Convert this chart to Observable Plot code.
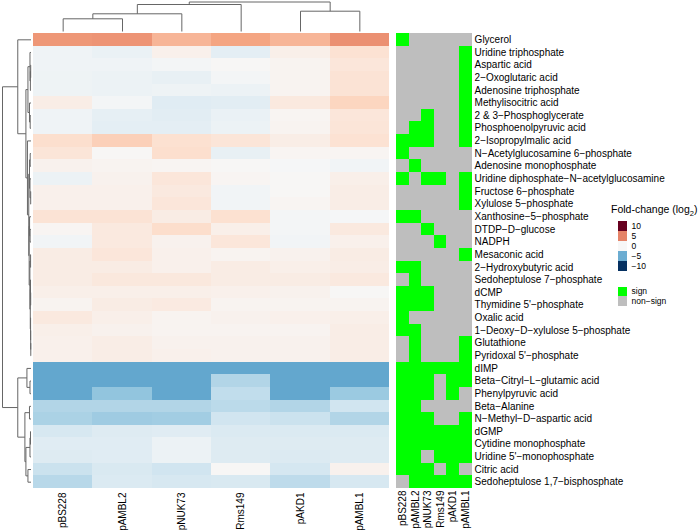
<!DOCTYPE html>
<html><head><meta charset="utf-8">
<script src="https://cdn.jsdelivr.net/npm/d3@7"></script>
<script src="https://cdn.jsdelivr.net/npm/@observablehq/plot@0.6"></script>
<style>
html,body{margin:0;padding:0;background:#fff;}
#chart{position:relative;width:700px;height:532px;overflow:hidden;font-family:"Liberation Sans",Arial,sans-serif;}
#chart svg{position:absolute;left:0;top:0;}
#fctitle{position:absolute;left:611px;top:203px;font-size:10.5px;line-height:12px;color:#000;white-space:nowrap;}
#fctitle sub{font-size:7.5px;line-height:0;}
</style></head><body>
<div id="chart"><div id="fctitle">Fold-change (log<sub>2</sub>)</div></div>
<script>
// ---------------- DATA ----------------
const samples = ["pBS228", "pAMBL2", "pNUK73", "Rms149", "pAKD1", "pAMBL1"];
const metabolites = [
  "Glycerol", "Uridine triphosphate", "Aspartic acid", "2−Oxoglutaric acid", "Adenosine triphosphate",
  "Methylisocitric acid", "2 & 3−Phosphoglycerate", "Phosphoenolpyruvic acid", "2−Isopropylmalic acid",
  "N−Acetylglucosamine 6−phosphate", "Adenosine monophosphate", "Uridine diphosphate−N−acetylglucosamine",
  "Fructose 6−phosphate", "Xylulose 5−phosphate", "Xanthosine−5−phosphate", "DTDP−D−glucose", "NADPH",
  "Mesaconic acid", "2−Hydroxybutyric acid", "Sedoheptulose 7−phosphate", "dCMP", "Thymidine 5'−phosphate",
  "Oxalic acid", "1−Deoxy−D−xylulose 5−phosphate", "Glutathione", "Pyridoxal 5'−phosphate", "dIMP",
  "Beta−Citryl−L−glutamic acid", "Phenylpyruvic acid", "Beta−Alanine", "N−Methyl−D−aspartic acid", "dGMP",
  "Cytidine monophosphate", "Uridine 5'−monophosphate", "Citric acid", "Sedoheptulose 1,7−bisphosphate"
];
// log2 fold-change, one series per plasmid (row order = metabolites)
const fc_pBS228 = [4.4,-0.4,-0.4,-0.5,-0.5,0.7,-0.4,-0.4,1.7,1.3,0.4,-0.6,0.5,0.5,1.4,0.2,-0.3,0.8,0.8,0.8,0.6,0.3,1.0,0.6,0.5,0.5,-5.2,-5.2,-5.2,-3.0,-3.2,-1.7,-1.2,-1.3,-2.2,-2.8];
const fc_pAMBL2 = [4.5,-0.7,-0.4,-0.6,-0.6,-0.2,-0.9,-1.0,2.4,0.1,0.3,0.4,0.5,0.5,1.4,1.0,1.0,1.2,0.8,1.1,0.6,0.8,0.6,0.4,0.7,0.7,-5.2,-5.2,-4.0,-3.0,-3.6,-1.3,-1.2,-1.2,-1.6,-1.5];
const fc_pNUK73 = [3.4,0.5,-0.2,-0.8,-0.5,-1.2,-1.1,-1.0,1.6,1.7,0.2,1.2,1.0,1.2,0.8,1.8,0.4,0.5,0.5,1.1,0.6,0.9,0.3,0.3,0.4,0.5,-5.2,-5.2,-5.2,-3.0,-3.5,-1.2,-0.6,-0.6,-2.0,-1.7];
const fc_Rms149 = [4.0,-1.0,0.1,-0.2,-0.6,-1.1,-0.7,-0.6,1.3,-0.8,0.1,0.2,-0.3,-0.3,1.6,0.6,1.2,0.3,0.8,0.8,0.5,0.3,0.4,0.3,0.4,0.4,-5.2,-3.0,-2.5,-2.7,-2.0,-1.5,-1.3,-1.3,0.1,-1.6];
const fc_pAKD1  = [3.4,0.6,0.3,0.3,0.3,1.0,0.2,0.3,0.7,0.2,-0.1,0.1,0.1,0.2,-0.2,-0.2,-0.3,0.4,0.6,0.8,0.4,0.3,0.5,0.3,0.4,0.4,-5.2,-5.2,-5.2,-3.0,-2.2,-1.5,-1.3,-1.4,-1.8,-2.6];
const fc_pAMBL1 = [4.6,1.5,1.2,1.4,1.4,2.2,1.2,1.3,1.5,0.2,-0.3,0.6,0.7,0.7,-0.1,1.0,0.5,0.8,0.7,1.0,0.1,0.3,0.6,0.7,0.7,0.7,-5.2,-5.2,-3.7,-2.0,-3.0,-1.5,-1.3,-1.3,0.4,-1.7];
// significance (1 = sign, 0 = non-sign)
const sig_pBS228 = [1,0,0,0,0,0,0,0,1,1,0,1,0,0,1,0,0,0,1,0,1,1,1,1,0,0,1,1,1,1,1,1,1,1,1,0];
const sig_pAMBL2 = [0,0,0,0,0,0,0,1,1,0,1,0,0,0,1,0,0,0,1,1,1,1,0,1,1,1,1,1,1,1,1,1,1,1,1,1];
const sig_pNUK73 = [0,0,0,0,0,0,1,1,1,0,0,1,0,0,0,1,0,0,0,0,1,1,0,0,0,0,1,1,1,0,1,1,1,0,1,1];
const sig_Rms149 = [0,0,0,0,0,0,0,0,0,0,0,1,0,0,0,0,1,0,0,0,0,0,0,0,0,0,1,0,0,0,0,1,1,1,0,1];
const sig_pAKD1  = [0,0,0,0,0,0,0,0,0,0,0,0,0,0,0,0,0,0,0,0,0,0,0,0,0,0,1,1,1,0,0,1,1,1,1,1];
const sig_pAMBL1 = [0,1,1,1,1,1,1,1,1,0,0,1,1,1,0,0,0,1,0,0,0,0,0,0,1,1,1,1,0,0,1,1,1,1,0,1];
// dendrograms: [height, left, right], leaves = index
const colTree = [29.5, [27, [17.7, [12.7, 0, 1], 2], 3], [20.3, 4, 5]];
const rowTreeTop = [13, 0,
  [5,
    [3, [1.0, 1, [0.6, [0.3, 2, 3], 4]], [1.5, 5, [0.8, 6, 7]]],
    [3.5, 8,
      [2.2,
        [1.5, [0.8, 9, 10], [1.0, 11, [0.3, 12, 13]]],
        [1.8, [1.4, 14, [0.9, 15, 16]],
              [1.1, [0.4, 17, 18], [0.7, [0.5, 19, [0.3, 20, 21]], [0.4, 22, [0.3, 23, [0.2, 24, 25]]]]]]]]]];
const rowTreeBottom = [13, [4, 26, [1, 27, 28]], [6, [1.5, 29, 30], [5, [1, [0.5, 31, 32], 33], [3, 34, 35]]]];
const rowTree = [28, rowTreeTop, rowTreeBottom];
const legendBreaks = [10, 5, 0, -5, -10];
const sigLevels = ["sign", "non-sign"];

// ---------------- BUILD ----------------
const fcSeries = [fc_pBS228, fc_pAMBL2, fc_pNUK73, fc_Rms149, fc_pAKD1, fc_pAMBL1];
const sigSeries = [sig_pBS228, sig_pAMBL2, sig_pNUK73, sig_Rms149, sig_pAKD1, sig_pAMBL1];
const cells = metabolites.flatMap((m, i) => samples.map((s, j) => ({metabolite: m, sample: s, value: fcSeries[j][i]})));
const sigCells = metabolites.flatMap((m, i) => samples.map((s, j) => ({metabolite: m, sample: s, status: sigSeries[j][i] ? "sign" : "non-sign"})));

function dendroSegments(tree) {
  const segs = [];
  (function walk(n) {
    if (typeof n === "number") return {p: n + 0.5, h: 0};
    const [h, a, b] = n;
    const l = walk(a), r = walk(b);
    segs.push({p1: l.p, h1: h, p2: r.p, h2: h});
    segs.push({p1: l.p, h1: l.h, p2: l.p, h2: h});
    segs.push({p1: r.p, h1: r.h, p2: r.p, h2: h});
    return {p: (l.p + r.p) / 2, h};
  })(tree);
  return segs;
}

const W = 700, H = 532;
const hmL = 33, hmR = 389, hmTop = 33, hmBottom = 488, sgL = 396, sgR = 471.6;
const fontFamily = '"Liberation Sans", Arial, sans-serif';
const baseStyle = {background: "transparent", fontFamily, fontSize: "10px", overflow: "visible", color: "#000"};
const rdbu = ["#053061","#2166ac","#4393c3","#92c5de","#d1e5f0","#f7f7f7","#fddbc7","#f4a582","#d6604d","#b2182b","#67001f"];
const colorFC = {type: "linear", domain: d3.range(-10, 11, 2), range: rdbu, interpolate: "rgb"};
const colorSig = {domain: sigLevels, range: ["#00ff00", "#bebebe"]};
const band = (domain) => ({domain, padding: 0, round: false, axis: null});
const chart = document.getElementById("chart");
const add = (svg) => chart.insertBefore(svg, document.getElementById("fctitle"));

// heatmap
add(Plot.plot({
  width: W, height: H, marginLeft: hmL, marginRight: W - hmR, marginTop: hmTop, marginBottom: H - hmBottom,
  style: {...baseStyle, background: "white"},
  x: band(samples),
  y: band(metabolites),
  color: colorFC,
  marks: [
    Plot.cell(cells, {x: "sample", y: "metabolite", fill: "value", inset: 0, shapeRendering: "crispEdges"}),
    Plot.axisX({anchor: "bottom", tickRotate: -90, tickSize: 0, tickPadding: 4, label: null, fontSize: 10})
  ]
}));

// significance grid
add(Plot.plot({
  width: W, height: H, marginLeft: sgL, marginRight: W - sgR, marginTop: hmTop, marginBottom: H - hmBottom,
  style: baseStyle,
  x: band(samples),
  y: band(metabolites),
  color: colorSig,
  marks: [
    Plot.cell(sigCells, {x: "sample", y: "metabolite", fill: "status", inset: 0, shapeRendering: "crispEdges"}),
    Plot.axisY({anchor: "right", tickSize: 0, tickPadding: 2.5, label: null, fontSize: 10}),
    Plot.axisX({anchor: "bottom", tickRotate: -90, tickSize: 0, tickPadding: 2, label: null, fontSize: 10})
  ]
}));

// column dendrogram
add(Plot.plot({
  width: W, height: H, marginLeft: hmL, marginRight: W - hmR, marginTop: 1.5, marginBottom: H - 31,
  style: baseStyle,
  x: {domain: [0, samples.length], axis: null},
  y: {domain: [0, 29.5], axis: null},
  marks: [Plot.link(dendroSegments(colTree), {x1: "p1", y1: "h1", x2: "p2", y2: "h2", stroke: "#666", strokeWidth: 1})]
}));

// row dendrogram
add(Plot.plot({
  width: W, height: H, marginLeft: 2, marginRight: W - 30.5, marginTop: hmTop, marginBottom: H - hmBottom,
  style: baseStyle,
  x: {domain: [0, 28], reverse: true, axis: null},
  y: {domain: [0, metabolites.length], reverse: true, axis: null},
  marks: [Plot.link(dendroSegments(rowTree), {x1: "h1", y1: "p1", x2: "h2", y2: "p2", stroke: "#666", strokeWidth: 1})]
}));

// fold-change legend
add(Plot.plot({
  width: W, height: H, marginLeft: 618, marginRight: W - 627, marginTop: 221, marginBottom: H - 271,
  style: {...baseStyle, fontSize: "8.5px"},
  y: band(legendBreaks),
  color: colorFC,
  marks: [
    Plot.cell(legendBreaks, {y: d => d, fill: d => d, inset: 0, shapeRendering: "crispEdges"}),
    Plot.text(legendBreaks, {y: d => d, text: d => d < 0 ? "−" + Math.abs(d) : String(d), frameAnchor: "right", textAnchor: "start", dx: 4, fontSize: 8.5})
  ]
}));

// significance legend
add(Plot.plot({
  width: W, height: H, marginLeft: 618, marginRight: W - 627, marginTop: 286.5, marginBottom: H - 305.5,
  style: {...baseStyle, fontSize: "8.5px"},
  y: band(sigLevels),
  color: colorSig,
  marks: [
    Plot.cell(sigLevels, {y: d => d, fill: d => d, inset: 0, shapeRendering: "crispEdges"}),
    Plot.text(sigLevels, {y: d => d, text: d => d.replace("-", "−"), frameAnchor: "right", textAnchor: "start", dx: 4, fontSize: 8.5})
  ]
}));
</script>
</body></html>
